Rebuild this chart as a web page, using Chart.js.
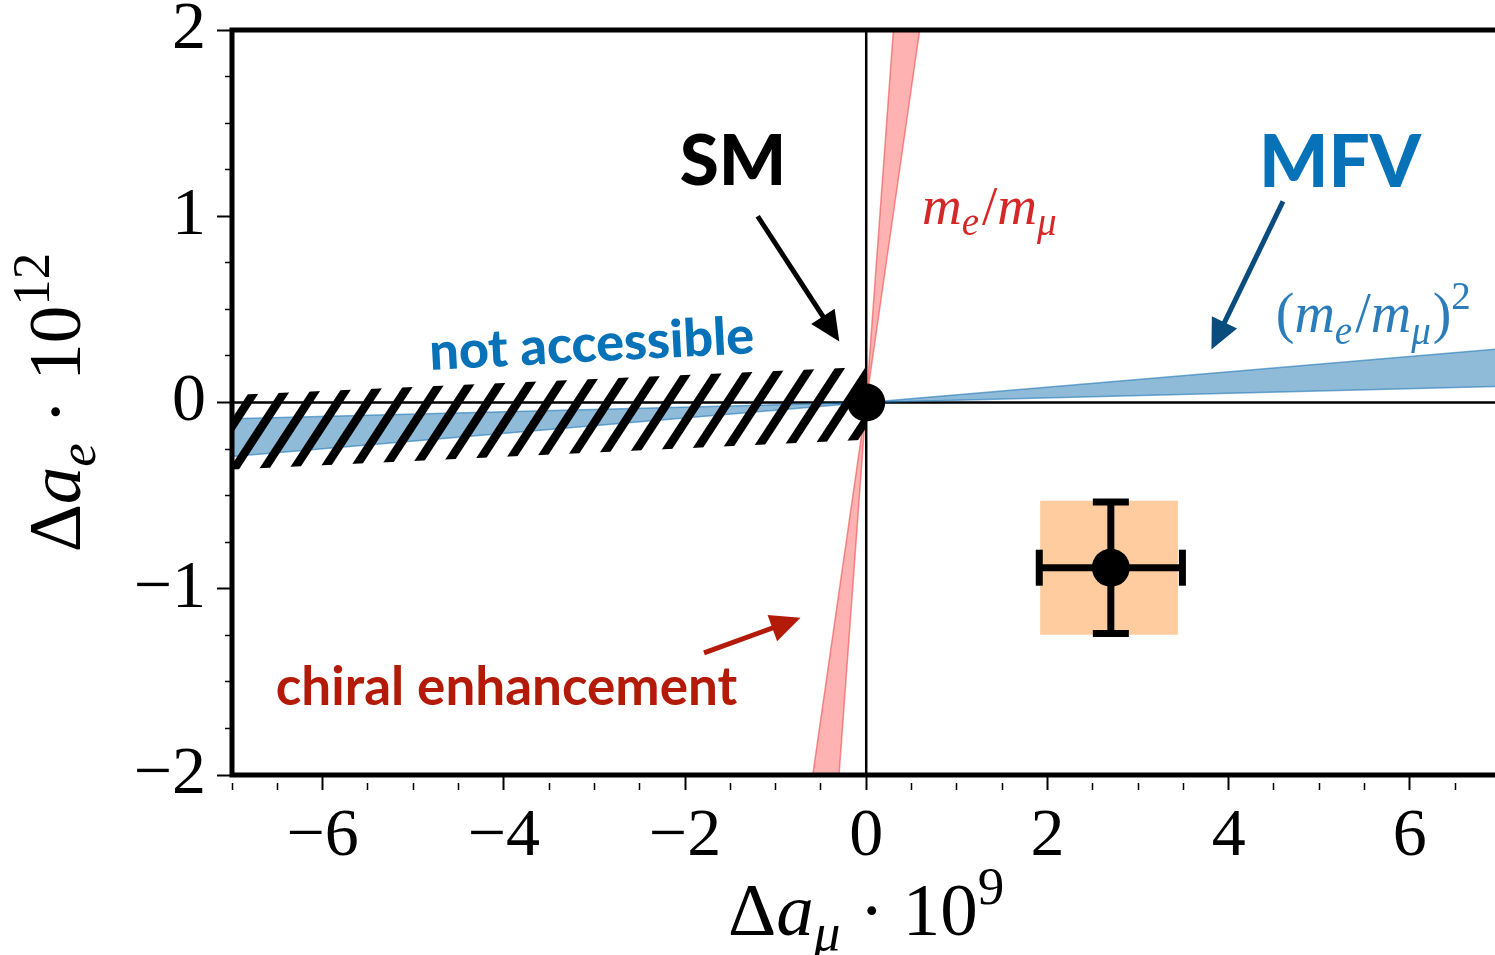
<!DOCTYPE html>
<html>
<head>
<meta charset="utf-8">
<script src="https://cdn.jsdelivr.net/npm/chart.js@4/dist/chart.umd.min.js"></script>
<style>
  html, body { margin: 0; padding: 0; background: #fff; }
  canvas { display: block; }
</style>
</head>
<body>
<canvas id="chart" width="1495" height="955" style="width:1495px;height:955px"></canvas>
<script>
// --- data (Δa_μ·10^9 on x, Δa_e·10^12 on y) ---
const xRange = [-7, 6.94];
const yRange = [-2, 2];

// reference lines through the origin
const hLineX = [-7, 7];
const hLineY = [0, 0];
const vLineX = [0, 0];
const vLineY = [-2, 2];

// (m_e/m_mu)^2 scaling band
const blueBandX = [0, 7, 7, 0, -7, -7, 0];
const blueBandY = [0, 0.288, 0.087, 0, -0.087, -0.29, 0];

// m_e/m_mu scaling band
const redBandX = [0, 0.30, 0.59, 0, -0.30, -0.59, 0];
const redBandY = [0, 2, 2, 0, -2, -2, 0];

// "not accessible" hatched region
const hatchX = [-7, 0, 0, -7];
const hatchY = [0.04, 0.19, -0.20, -0.36];

// measurement
const measX = 2.70, measY = -0.887;
const measErrX = 0.79, measErrY = 0.353;
const boxX = [1.92, 3.44, 3.44, 1.92, 1.92];
const boxY = [-0.527, -0.527, -1.247, -1.247, -0.527];

// SM point
const smX = 0, smY = 0;

const pts = (xs, ys) => xs.map((x, i) => ({ x, y: ys[i] }));
const fmt = v => (v < 0 ? "\u2212" + Math.abs(v) : String(v));

function makeHatch() {
  const c = document.createElement("canvas");
  c.width = 30; c.height = 46;
  const g = c.getContext("2d");
  g.strokeStyle = "#000";
  g.lineWidth = 8.5;
  for (const dx of [-30, 0, 30]) {
    g.beginPath();
    g.moveTo(dx - 30, 92);
    g.lineTo(dx + 60, -46);
    g.stroke();
  }
  return g.createPattern(c, "repeat");
}

const serif = '"Liberation Serif", "DejaVu Serif", serif';
const sans = 'Lato, "Open Sans", sans-serif';

// annotations in data coordinates
const labels = [
  { text: "SM", x: -1.47, y: 1.29, font: "900 71px " + sans, color: "#000" },
  { text: "MFV", x: 5.23, y: 1.285, font: "900 73px " + sans, color: "#0872b8" },
  { text: "not accessible", x: -3.03, y: 0.31, font: "900 52px " + sans, color: "#0872b8", rot: -3 },
  { text: "chiral enhancement", x: -3.97, y: -1.53, font: "700 53px " + sans, color: "#b31b08" },
];
const arrows = [
  { from: [-1.198, 1.0], to: [-0.297, 0.328], color: "#000" },
  { from: [4.60, 1.08], to: [3.81, 0.285], color: "#0b4c7f" },
  { from: [-1.79, -1.344], to: [-0.725, -1.156], color: "#b31b08" },
];

// math text: pieces {t, it, sub, sup}
function drawMath(ctx, parts, x, y, size, color, align) {
  const fontOf = p => {
    const s = Math.round((p.sub || p.sup) ? size * 0.7 : size);
    return (p.it ? "italic " : "") + s + "px " + serif;
  };
  let w = 0;
  for (const p of parts) { ctx.font = fontOf(p); w += ctx.measureText(p.t).width + (p.gap || 0); }
  let cx = align === "center" ? x - w / 2 : x;
  ctx.fillStyle = color;
  ctx.textAlign = "left";
  ctx.textBaseline = "alphabetic";
  for (const p of parts) {
    ctx.font = fontOf(p);
    let dy = 0;
    if (p.sub) dy = size * 0.2;
    if (p.sup) dy = -size * 0.42;
    ctx.fillText(p.t, cx, y + dy);
    cx += ctx.measureText(p.t).width + (p.gap || 0);
  }
}

const annotPlugin = {
  id: "annot",
  afterDatasetsDraw(chart) {
    const { ctx, chartArea: a, scales: { x, y } } = chart;
    ctx.save();
    // frame (left, top, bottom)
    ctx.strokeStyle = "#000";
    ctx.lineWidth = 5;
    ctx.beginPath();
    ctx.moveTo(a.right + 5, a.top);
    ctx.lineTo(a.left, a.top);
    ctx.lineTo(a.left, a.bottom);
    ctx.lineTo(a.right + 5, a.bottom);
    ctx.stroke();

    // arrows
    for (const ar of arrows) {
      const x0 = x.getPixelForValue(ar.from[0]), y0 = y.getPixelForValue(ar.from[1]);
      const x1 = x.getPixelForValue(ar.to[0]), y1 = y.getPixelForValue(ar.to[1]);
      const ang = Math.atan2(y1 - y0, x1 - x0);
      const hl = 30, hw = 14;
      ctx.strokeStyle = ar.color;
      ctx.fillStyle = ar.color;
      ctx.lineWidth = 5;
      ctx.beginPath();
      ctx.moveTo(x0, y0);
      ctx.lineTo(x1 - Math.cos(ang) * hl * 0.8, y1 - Math.sin(ang) * hl * 0.8);
      ctx.stroke();
      ctx.beginPath();
      ctx.moveTo(x1, y1);
      ctx.lineTo(x1 - Math.cos(ang) * hl - Math.sin(ang) * hw, y1 - Math.sin(ang) * hl + Math.cos(ang) * hw);
      ctx.lineTo(x1 - Math.cos(ang) * hl + Math.sin(ang) * hw, y1 - Math.sin(ang) * hl - Math.cos(ang) * hw);
      ctx.closePath();
      ctx.fill();
    }

    // bold labels
    for (const l of labels) {
      ctx.save();
      ctx.translate(x.getPixelForValue(l.x), y.getPixelForValue(l.y));
      if (l.rot) ctx.rotate(l.rot * Math.PI / 180);
      ctx.font = l.font;
      ctx.fillStyle = l.color;
      ctx.textAlign = "center";
      ctx.textBaseline = "middle";
      ctx.fillText(l.text, 0, 0);
      ctx.restore();
    }

    // math labels
    drawMath(ctx, [
      { t: "m", it: true }, { t: "e", it: true, sub: true, gap: 3 }, { t: "/" },
      { t: "m", it: true }, { t: "\u03bc", it: true, sub: true },
    ], x.getPixelForValue(0.615), y.getPixelForValue(0.957), 55, "#d62728", "left");
    drawMath(ctx, [
      { t: "(" }, { t: "m", it: true }, { t: "e", it: true, sub: true, gap: 3 }, { t: "/" },
      { t: "m", it: true }, { t: "\u03bc", it: true, sub: true, gap: 2 }, { t: ")" }, { t: "2", sup: true },
    ], x.getPixelForValue(4.52), y.getPixelForValue(0.376), 56, "#2a7cba", "left");

    // axis titles
    drawMath(ctx, [
      { t: "\u0394" }, { t: "a", it: true }, { t: "\u03bc", it: true, sub: true },
      { t: " \u00b7 10" }, { t: "9", sup: true },
    ], x.getPixelForValue(0), 935, 75, "#000", "center");
    ctx.save();
    ctx.translate(80, (a.top + a.bottom) / 2);
    ctx.rotate(-Math.PI / 2);
    drawMath(ctx, [
      { t: "\u0394" }, { t: "a", it: true }, { t: "e", it: true, sub: true },
      { t: " \u00b7 10" }, { t: "12", sup: true },
    ], 0, 0, 75, "#000", "center");
    ctx.restore();
    ctx.restore();
  }
};

const minorDash = (ctx, len) => {
  const major = ctx.tick && ctx.tick.label !== "";
  return major ? [] : [0, 15 - len, len, 1000];
};

new Chart(document.getElementById("chart"), {
  type: "scatter",
  data: {
    datasets: [
      { data: [{ x: smX, y: smY }, { x: measX, y: measY }], pointRadius: 19, pointBackgroundColor: "#000",
        pointBorderWidth: 0, showLine: false, order: 0 },
      { data: pts([measX, measX], [measY + measErrY, measY - measErrY]), showLine: true, borderColor: "#000",
        borderWidth: 7, pointStyle: "line", pointRadius: 18, pointBorderColor: "#000", pointBorderWidth: 7, order: 1 },
      { data: pts([measX - measErrX, measX + measErrX], [measY, measY]), showLine: true, borderColor: "#000",
        borderWidth: 7, pointStyle: "line", pointRotation: 90, pointRadius: 18, pointBorderColor: "#000",
        pointBorderWidth: 7, order: 2 },
      { data: pts(boxX, boxY), showLine: true, fill: "shape", backgroundColor: "rgba(255,127,14,0.4)",
        borderWidth: 0, pointRadius: 0, order: 3 },
      { data: pts(hatchX, hatchY), showLine: true, fill: "shape", backgroundColor: makeHatch(),
        borderWidth: 0, pointRadius: 0, order: 4 },
      { data: pts(redBandX, redBandY), showLine: true, fill: "shape", backgroundColor: "rgba(255,0,0,0.3)",
        borderColor: "rgba(235,60,60,0.55)", borderWidth: 1.5, pointRadius: 0, order: 5 },
      { data: pts(blueBandX, blueBandY), showLine: true, fill: "shape", backgroundColor: "rgba(31,119,180,0.5)",
        borderColor: "rgba(31,119,180,0.6)", borderWidth: 1.5, pointRadius: 0, order: 6 },
      { data: pts(hLineX, hLineY), showLine: true, borderColor: "#000", borderWidth: 2.5, pointRadius: 0, order: 7 },
      { data: pts(vLineX, vLineY), showLine: true, borderColor: "#000", borderWidth: 2.5, pointRadius: 0, order: 8 },
    ]
  },
  options: {
    responsive: false,
    animation: false,
    devicePixelRatio: 1,
    layout: { autoPadding: false, padding: { top: 30, right: 0, left: 0, bottom: 0 } },
    plugins: { legend: { display: false }, tooltip: { enabled: false } },
    scales: {
      x: {
        type: "linear",
        min: xRange[0],
        max: xRange[1],
        border: { display: false },
        grid: {
          drawOnChartArea: false,
          tickLength: 15,
          tickColor: "#000",
          tickWidth: c => (c.tick && c.tick.label !== "" ? 2 : 1.5),
          tickBorderDash: c => minorDash(c, 7),
        },
        ticks: {
          stepSize: 0.5,
          includeBounds: false,
          autoSkip: false,
          maxRotation: 0,
          padding: 6,
          color: "#000",
          font: { family: serif, size: 68 },
          callback: v => (v % 2 === 0 ? fmt(v) : ""),
        },
        afterFit: s => { s.height = 180; s.paddingLeft = 0; s.paddingRight = 0; },
      },
      y: {
        type: "linear",
        min: yRange[0],
        max: yRange[1],
        border: { display: false },
        grid: {
          drawOnChartArea: false,
          tickLength: 15,
          tickColor: "#000",
          tickWidth: c => (c.tick && c.tick.label !== "" ? 2 : 1.5),
          tickBorderDash: c => minorDash(c, 7),
        },
        ticks: {
          stepSize: 0.25,
          autoSkip: false,
          padding: 11,
          color: "#000",
          font: { family: serif, size: 68 },
          callback: v => (Number.isInteger(v) ? fmt(v) : ""),
        },
        afterFit: s => { s.width = 232; s.paddingTop = 0; s.paddingBottom = 0; },
      },
    },
  },
  plugins: [annotPlugin],
});
</script>
</body>
</html>
